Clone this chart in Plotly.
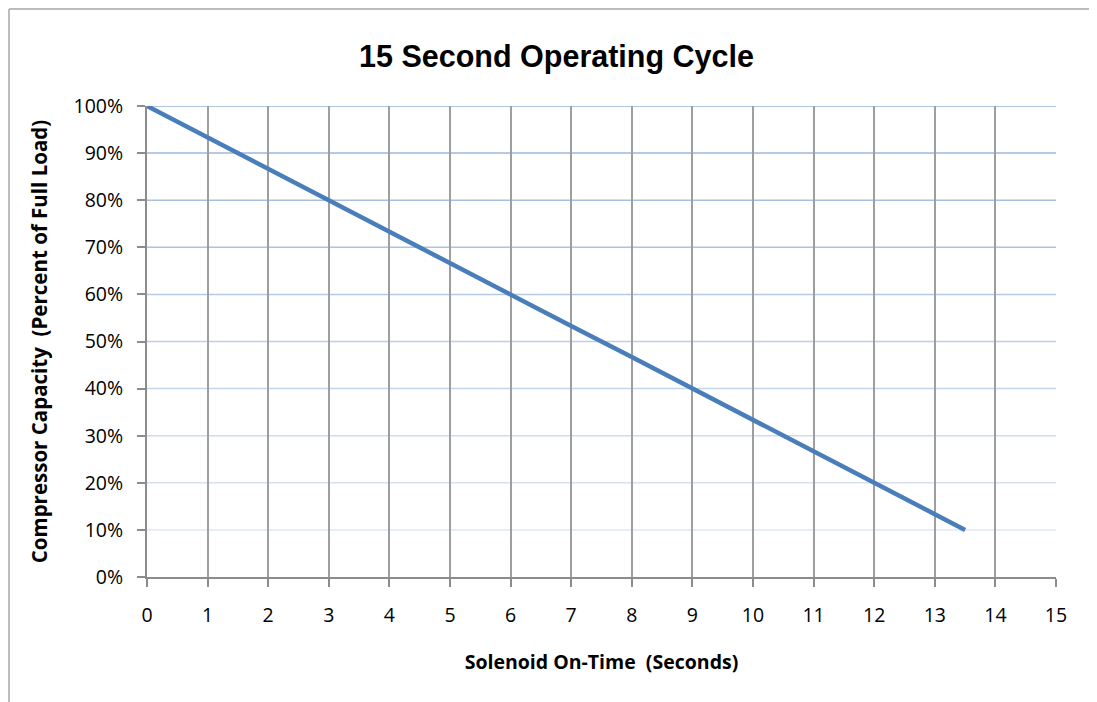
import plotly.graph_objects as go

# Data
on_time_s = [0, 1, 2, 3, 4, 5, 6, 7, 8, 9, 10, 11, 12, 13, 13.5]
capacity_pct = [100, 93.3, 86.7, 80, 73.3, 66.7, 60, 53.3, 46.7, 40, 33.3, 26.7, 20, 13.3, 10]
x_ticks = list(range(0, 16))
y_ticks = list(range(0, 101, 10))
y_tick_labels = [f"{v}%" for v in y_ticks]

title_text = "15 Second Operating Cycle"
x_title = "Solenoid On-Time\u00a0 (Seconds)"
y_title = "Compressor Capacity\u00a0 (Percent of Full Load)"

tick_font = dict(family="Open Sans, Lato, sans-serif", size=19.5, color="#000000")
x_title_font = dict(family="Open Sans, Lato, sans-serif", size=19.5, color="#000000")
y_title_font = dict(family="Open Sans, Lato, sans-serif", size=20.5, color="#000000")

fig = go.Figure()

# horizontal gridlines with the fading blue tint
c_top = (149, 179, 215)
c_bot = (222, 231, 243)
shapes = []
for v in y_ticks[1:]:
    t = (v - 10) / 90
    col = tuple(round(c_bot[i] + (c_top[i] - c_bot[i]) * t) for i in range(3))
    shapes.append(dict(type="line", xref="x", yref="y", x0=0, x1=15, y0=v, y1=v,
                       line=dict(color=f"rgb{col}", width=1.5), layer="below"))

# outer chart border: only top and left edges are visible in the page
border = dict(color="#A6A6A6", width=1.5)
shapes.append(dict(type="line", xref="paper", yref="paper",
                   x0=-0.1518, x1=1.3, y0=1.2059, y1=1.2059, line=border, layer="below"))
shapes.append(dict(type="line", xref="paper", yref="paper",
                   x0=-0.1518, x1=-0.1518, y0=-0.6, y1=1.2059, line=border, layer="below"))

fig.add_trace(go.Scatter(
    x=on_time_s, y=capacity_pct, mode="lines",
    line=dict(color="#4A7EBB", width=4.5),
    hoverinfo="x+y", showlegend=False,
))

fig.update_layout(
    width=1097, height=702,
    margin=dict(l=139, r=49, t=98, b=133),
    paper_bgcolor="white", plot_bgcolor="white",
    shapes=shapes,
    title=dict(text=f"<b>{title_text}</b>", x=(556.5 - 8 - 139) / 909, xref="paper", xanchor="center",
               y=(702 - 48) / 702, yref="container", yanchor="middle",
               font=dict(family="Liberation Sans, Arial, sans-serif", size=30.5, color="#000000")),
    xaxis=dict(
        range=[0, 15], tickmode="array", tickvals=x_ticks, ticktext=[str(v) for v in x_ticks],
        showgrid=True, gridcolor="#9E9E9E", gridwidth=2,
        showline=True, linecolor="#8C8C8C", linewidth=2,
        ticks="outside", ticklen=8, tickcolor="#8C8C8C", tickwidth=2,
        ticklabelstandoff=12,
        tickfont=tick_font, zeroline=False, fixedrange=True,
        title=dict(text=f"<b>{x_title}</b>", font=x_title_font, standoff=28),
    ),
    yaxis=dict(
        range=[0, 100], tickmode="array", tickvals=y_ticks, ticktext=y_tick_labels,
        showgrid=False,
        showline=True, linecolor="#8C8C8C", linewidth=2,
        ticks="outside", ticklen=8, tickcolor="#8C8C8C", tickwidth=2,
        ticklabelstandoff=10,
        tickfont=tick_font, zeroline=False, fixedrange=True,
        title=dict(text=f"<b>{y_title}</b>", font=y_title_font, standoff=20),
    ),
)

fig.write_html("out.html")
